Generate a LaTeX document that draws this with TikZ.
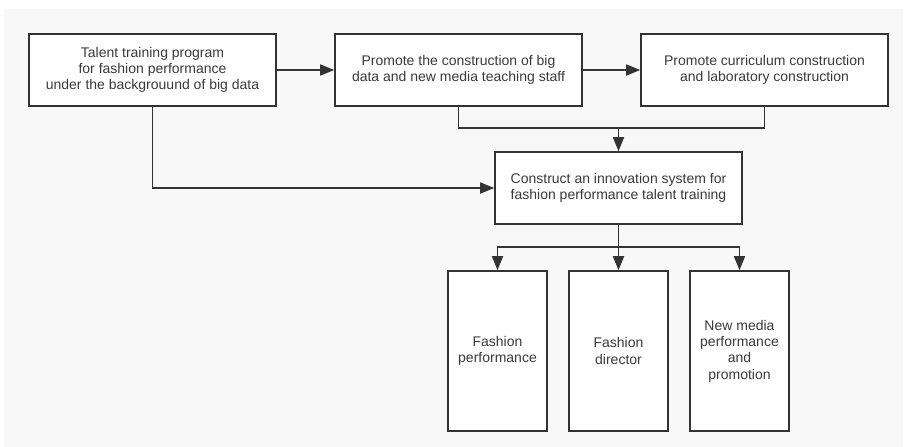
\documentclass[tikz,border=0pt]{standalone}
\usepackage{fontspec}
\setmainfont{Liberation Sans}
\usetikzlibrary{arrows.meta}
\definecolor{bgpaper}{HTML}{F8F8F8}
\definecolor{inkline}{HTML}{333333}
\definecolor{inktext}{HTML}{3A3A3A}
\tikzset{
    stagebox/.style={draw=inkline, line width=1.6pt, fill=white, align=center,
        minimum width=247pt, minimum height=72pt, inner sep=0pt,
        font=\fontsize{14pt}{16.3pt}\selectfont, text=inktext},
    branchbox/.style={stagebox, minimum width=99pt, minimum height=160pt},
    flow/.style={draw=inkline, line width=1.6pt},
    flowarrow/.style={flow, -{Triangle[length=14pt,width=11pt]}}
}

\begin{document}
\begin{tikzpicture}[x=1pt, y=-1pt]
    \useasboundingbox (0,0) rectangle (906,447);
    \fill[bgpaper] (4,9) rectangle (903,447);

    \node[stagebox] (talent) at (152.5,70) {Talent training program\\for fashion performance\\under the backgrouund of big data};
    \node[stagebox] (staff) at (458.5,70) {Promote the construction of big\\data and new media teaching staff};
    \node[stagebox] (curriculum) at (764.5,70) {Promote curriculum construction\\and laboratory construction};
    \node[stagebox] (system) at (618.5,188) {Construct an innovation system for\\fashion performance talent training};

    \node[branchbox] (performance) at (497.5,351) {Fashion\\performance};
    \node[branchbox] (director) at (618.5,351) {Fashion\\director};
    \node[branchbox] (newmedia) at (739.5,351) {New media\\performance\\and\\promotion};

    \coordinate (join) at (618.5,128);
    \coordinate (split) at (618.5,247);

    \draw[flowarrow] (talent) -- (staff);
    \draw[flowarrow] (staff) -- (curriculum);
    \draw[flow] (staff.south) |- (join) -| (curriculum.south);
    \draw[flowarrow] (join) -- (system.north);
    \draw[flowarrow] (talent.south) |- (system.west);

    \draw[flow] (system.south) -- (split);
    \foreach \leaf in {performance, director, newmedia} {
        \draw[flowarrow] (split) -| (\leaf.north);
    }
\end{tikzpicture}
\end{document}
